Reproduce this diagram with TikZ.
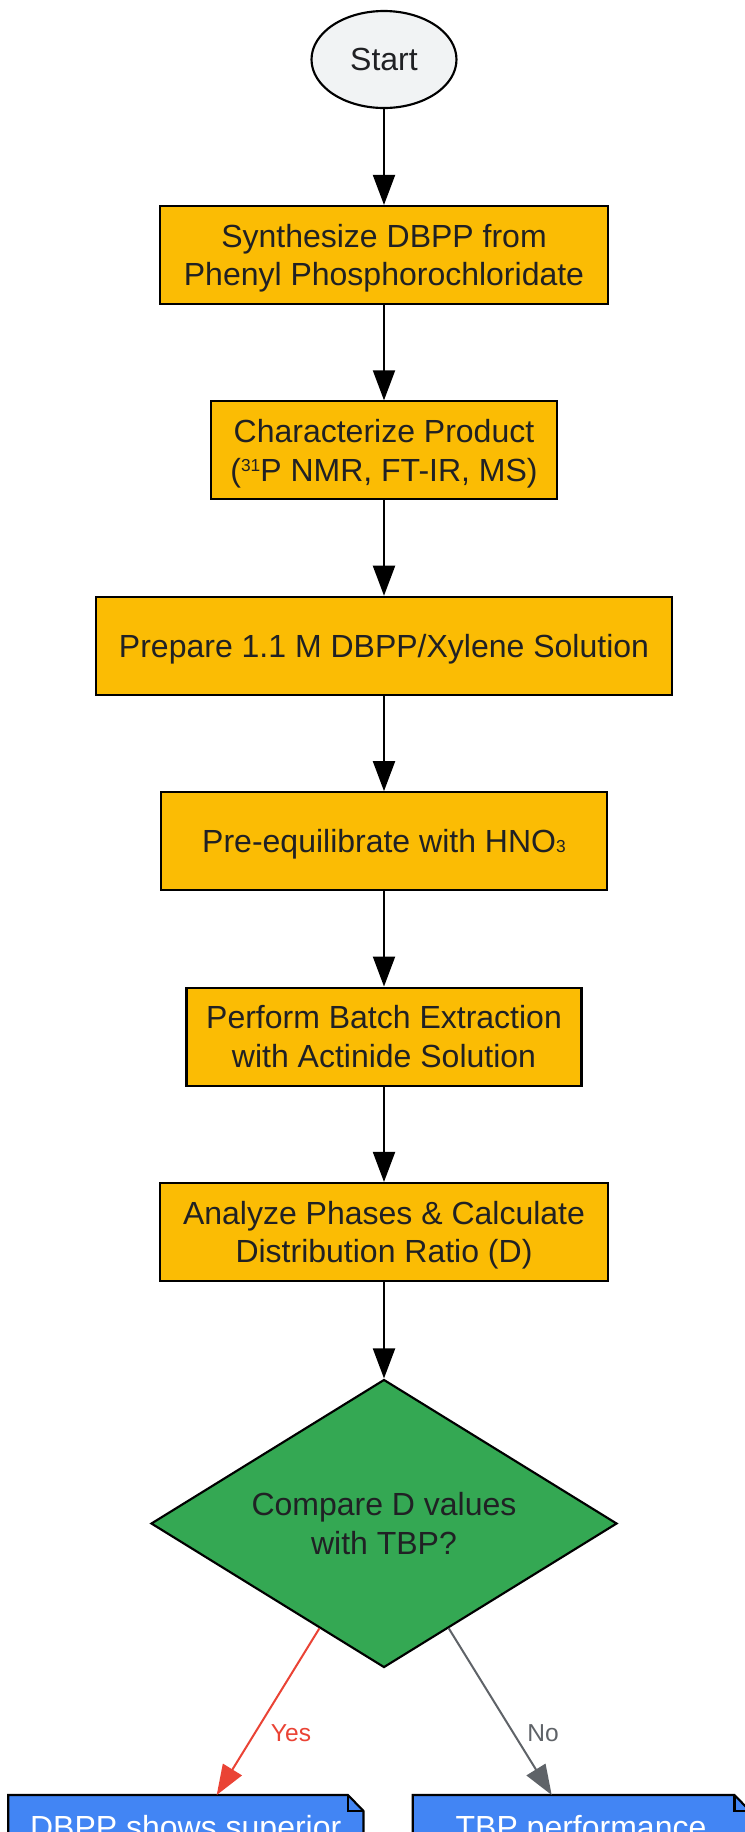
\documentclass[tikz,border=0pt]{standalone}
\usepackage{fontspec}
\setmainfont{Liberation Sans}
\usetikzlibrary{arrows.meta,shapes.geometric}
\definecolor{ylw}{HTML}{FBBC04}
\definecolor{grn}{HTML}{34A853}
\definecolor{blu}{HTML}{4285F4}
\definecolor{startfill}{HTML}{F1F3F4}
\definecolor{txt}{HTML}{202124}
\definecolor{yesred}{HTML}{EA4335}
\definecolor{nogray}{HTML}{5F6368}
\newcommand{\subthree}{{\fontsize{13pt}{13pt}\selectfont 3}}
\newcommand{\supthirtyone}{\raisebox{7.6pt}{\fontsize{13pt}{13pt}\selectfont 31}}
\begin{document}
\begin{tikzpicture}[x=0.75pt,y=-0.75pt,
  font=\fontsize{24pt}{28.9pt}\selectfont,
  procbox/.style={rectangle,draw=black,line width=1.6pt,fill=ylw,text=txt,
    inner sep=0pt,minimum height=73.5pt,align=center,text depth=0pt},
  startnode/.style={ellipse,draw=black,line width=1.6pt,fill=startfill,text=txt,
    inner sep=0pt,minimum width=108.75pt,minimum height=72.75pt},
  decnode/.style={diamond,draw=black,line width=1.6pt,fill=grn,text=txt,aspect=1.618,
    inner sep=0pt,minimum width=349.5pt,minimum height=216pt,align=center},
  notebox/.style={draw=black,line width=1.6pt,fill=blu,line join=miter},
  notetext/.style={text=white,inner sep=0pt,anchor=base},
  flow/.style={draw=black,line width=1.5pt,-{Triangle[length=22.5pt,width=16.5pt]}},
  yesflow/.style={draw=yesred,line width=1.5pt,-{Triangle[length=22.5pt,width=16.5pt]}},
  noflow/.style={draw=nogray,line width=1.5pt,-{Triangle[length=22.5pt,width=16.5pt]}},
  lbl/.style={font=\fontsize{18.4pt}{22pt}\selectfont,inner sep=0pt,anchor=base}]
\fill[white] (0,0) rectangle (745,1832);
\useasboundingbox (0,0) rectangle (745,1832);

\node[startnode] (start) at (384,59.5) {Start};
\node[procbox,minimum width=336pt] (b1) at (384,255) {Synthesize DBPP from\\Phenyl Phosphorochloridate};
\node[procbox,minimum width=259.5pt] (b2) at (384,450.4) {Characterize Product\\(\supthirtyone P NMR, FT-IR, MS)};
\node[procbox,minimum width=432pt] (b3) at (384,645.8) {Prepare 1.1 M DBPP/Xylene Solution};
\node[procbox,minimum width=334.5pt] (b4) at (384,841.2) {Pre-equilibrate with HNO\subthree};
\node[procbox,minimum width=296.25pt] (b5) at (384,1036.6) {Perform Batch Extraction\\with Actinide Solution};
\node[procbox,minimum width=336pt] (b6) at (384,1232) {Analyze Phases \& Calculate\\Distribution Ratio (D)};
\node[decnode] (dec) at (384,1523.5) {Compare D values\\with TBP?};

% notes (cut by the page edge)
\path[notebox] (8.3,1795) -- (348,1795) -- (363.5,1811) -- (363.5,1900) -- (8.3,1900) -- cycle;
\draw[line width=1.6pt,line join=miter] (348,1795) -- (348,1811) -- (363.5,1811);
\path[notebox] (412.7,1795) -- (734.5,1795) -- (750,1811) -- (750,1900) -- (412.7,1900) -- cycle;
\draw[line width=1.6pt,line join=miter] (734.5,1795) -- (734.5,1811) -- (750,1811);
\node[notetext] (noteL) at (185.7,1838) {DBPP shows superior};
\node[notetext] (noteR) at (581,1838) {TBP performance};
\coordinate (yesend) at (216.7,1795);
\coordinate (noend) at (551.7,1795);

\draw[flow] (start) -- (b1);
\draw[flow] (b1) -- (b2);
\draw[flow] (b2) -- (b3);
\draw[flow] (b3) -- (b4);
\draw[flow] (b4) -- (b5);
\draw[flow] (b5) -- (b6);
\draw[flow] (b6) -- (dec);
\draw[yesflow] (dec) -- (yesend);
\draw[noflow] (dec) -- (noend);
\node[lbl,text=yesred] (yeslbl) at (291,1741.7) {Yes};
\node[lbl,text=nogray] (nolbl) at (543,1741.7) {No};
\end{tikzpicture}
\end{document}
